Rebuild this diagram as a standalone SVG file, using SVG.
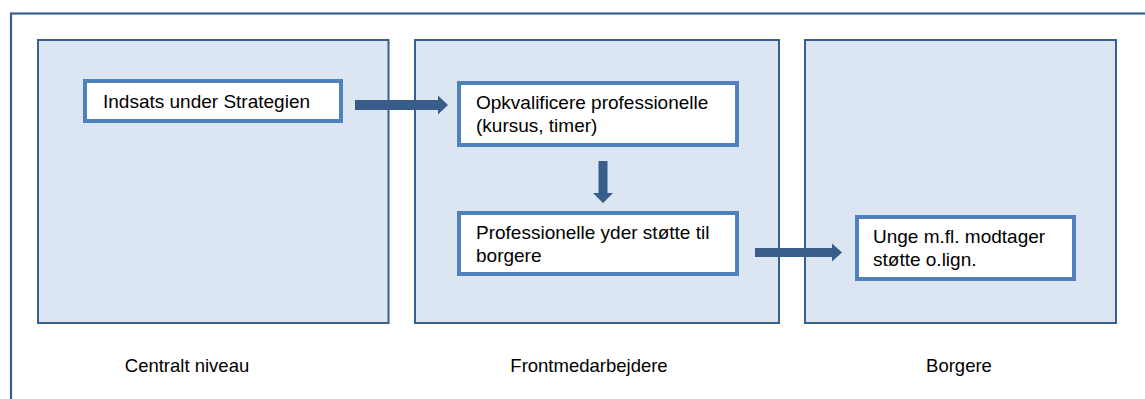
<svg xmlns="http://www.w3.org/2000/svg" width="1145" height="399" viewBox="0 0 1145 399">
<style>
.col{fill:#dce6f2;stroke:#3a5f8f;stroke-width:2}
.box{fill:#ffffff;stroke:#4f81bd;stroke-width:4}
.t{font-family:"Liberation Sans",Arial,sans-serif;font-size:19px;fill:#000}
.lbl{font-family:"Liberation Sans",Arial,sans-serif;font-size:18.5px;fill:#000;text-anchor:middle}
.arr{fill:#385d8a}
</style>
<rect x="11" y="13.5" width="1150" height="400" fill="#ffffff" stroke="#3a5f8f" stroke-width="2.2"/>
<g id="col-central">
<rect class="col" x="38" y="40" width="350.5" height="283"/>
<text class="lbl" x="187" y="372">Centralt niveau</text>
</g>
<g id="col-front">
<rect class="col" x="415" y="40" width="364" height="283"/>
<text class="lbl" x="589" y="372">Frontmedarbejdere</text>
</g>
<g id="col-borgere">
<rect class="col" x="805" y="40" width="311" height="283"/>
<text class="lbl" x="959" y="372">Borgere</text>
</g>
<g id="n1">
<rect class="box" x="85" y="81" width="256" height="40"/>
<text class="t" x="103" y="108">Indsats under Strategien</text>
</g>
<g id="n2">
<rect class="box" x="459" y="83" width="278" height="62"/>
<text class="t" x="476" y="109">Opkvalificere professionelle</text>
<text class="t" x="476" y="132">(kursus, timer)</text>
</g>
<g id="n3">
<rect class="box" x="459" y="213" width="278" height="61"/>
<text class="t" x="476" y="239">Professionelle yder støtte til</text>
<text class="t" x="476" y="262">borgere</text>
</g>
<g id="n4">
<rect class="box" x="857" y="217" width="217" height="62"/>
<text class="t" x="873" y="243">Unge m.fl. modtager</text>
<text class="t" x="873" y="266">støtte o.lign.</text>
</g>
<g id="connectors">
<polygon class="arr" points="355,100 438,100 438,95.5 448,105 438,114.5 438,110 355,110"/>
<polygon class="arr" points="598.5,161 607.5,161 607.5,193 613,193 603,203 593,193 598.5,193"/>
<polygon class="arr" points="755,248 832,248 832,243.5 842,252.5 832,261.5 832,257 755,257"/>
</g>
</svg>
